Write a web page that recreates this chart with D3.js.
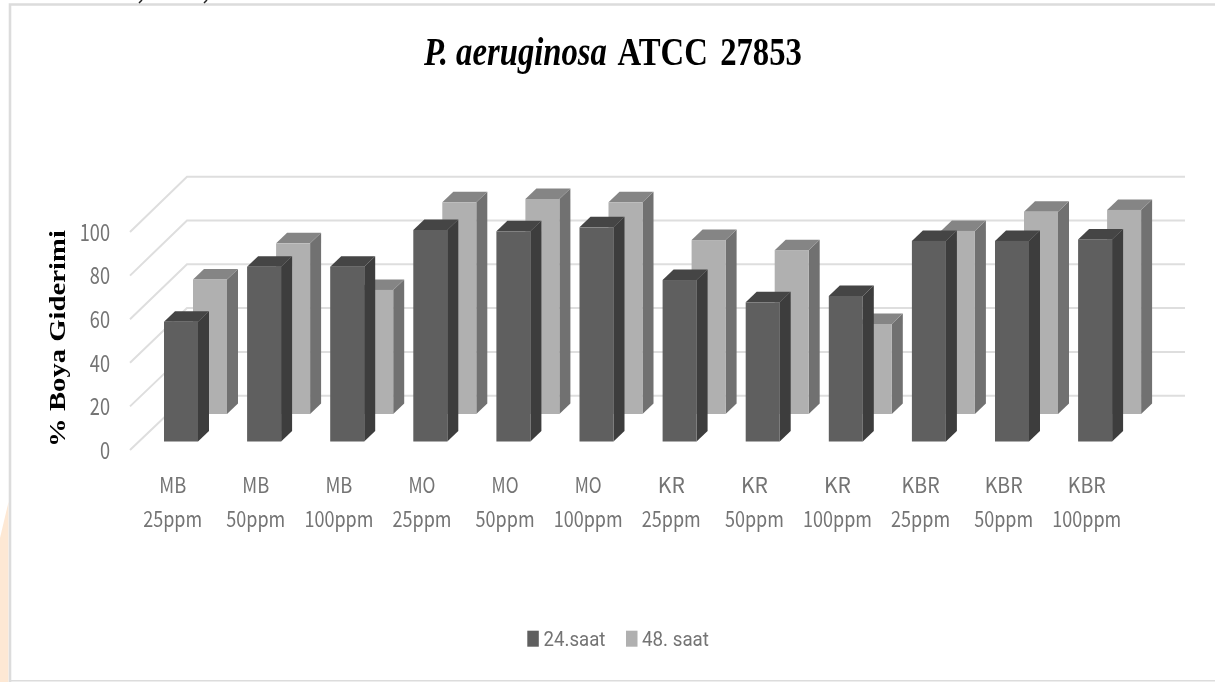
<!DOCTYPE html>
<html><head><meta charset="utf-8">
<script src="https://cdn.jsdelivr.net/npm/d3@7/dist/d3.min.js"></script>
<style>html,body{margin:0;padding:0;background:#fff;overflow:hidden}svg{display:block;filter:blur(0.4px)}</style>
</head><body><svg id="c" width="1215" height="682"></svg>
<script>
const categories = ["MB 25ppm","MB 50ppm","MB 100ppm","MO 25ppm","MO 50ppm","MO 100ppm","KR 25ppm","KR 50ppm","KR 100ppm","KBR 25ppm","KBR 50ppm","KBR 100ppm"];
const saat24 = [54.8,80,80,96.8,96.2,98,73.9,63.7,66.6,91.8,91.8,92.5];
const saat48 = [61.6,78.1,56.8,96.9,98.4,96.9,79.6,75,41.2,83.8,92.6,93.4];
const yTicks = [0,20,40,60,80,100];
const titleItalic = "P. aeruginosa";
const titleRest = " ATCC 27853";
const yTitle = "% Boya Giderimi";
const legendLabels = ["24.saat","48. saat"];

const svg = d3.select("#c");
const labelFont = "'Noto Sans CJK JP','Noto Sans',sans-serif";
const serif = "'Liberation Serif',serif";
const textGrey = "#747474";

// page decoration
svg.append("path").attr("d","M0,538 L8.5,502 L8.5,682 L0,682 Z").attr("fill","#fde8d4");
const frame = svg.append("g").attr("stroke","#dcdcdc").attr("stroke-width",2.6).attr("fill","none");
frame.append("path").attr("d","M10,682 L10,4.5 L1215,4.5");
frame.append("path").attr("d","M10,680.8 L1215,680.8").attr("stroke-width",1.6);
svg.append("path").attr("d","M139,3 L142,0 M204,3 L207,0").attr("stroke","#222").attr("stroke-width",1.5);

// scales: front plane of the axis, back wall and bar lengths
const yFront = d3.scaleLinear().domain([0,100]).range([450,232]);
const yBack = d3.scaleLinear().domain([0,100]).range([395.7,176.7]);
const barLen = d3.scaleLinear().domain([0,100]).range([0,218.5]);
const x = d3.scaleBand().domain(categories).range([164,164+83.1*11+34]).paddingInner(49.1/83.1).paddingOuter(0);
const frontX = 130, backX = 187, wallEnd = 1185;

// grid
const grid = svg.append("g").attr("stroke","#dedede").attr("stroke-width",2).attr("fill","none");
grid.selectAll("path").data(yTicks).join("path")
  .attr("d",t=>`M${frontX},${yFront(t)} L${backX},${yBack(t)} L${wallEnd},${yBack(t)}`);

// bars
const dx = 11, dy = 10.5;
function bars(values, offset, base, c){
  const g = svg.append("g");
  const gs = g.selectAll("g").data(values).join("g");
  const w = x.bandwidth();
  const X = (d,i)=>x(categories[i])+offset;
  const T = d=>base-barLen(d);
  gs.append("path").attr("fill",c.side).attr("d",(d,i)=>{const a=X(d,i)+w;return `M${a},${T(d)} L${a+dx},${T(d)-dy} L${a+dx},${base-dy} L${a},${base} Z`;});
  gs.append("path").attr("fill",c.top).attr("d",(d,i)=>{const a=X(d,i);return `M${a},${T(d)} L${a+dx},${T(d)-dy} L${a+w+dx},${T(d)-dy} L${a+w},${T(d)} Z`;});
  gs.append("rect").attr("fill",c.front).attr("x",X).attr("y",T).attr("width",w).attr("height",d=>barLen(d));
}
const dark = {front:"#5f5f5f",side:"#3d3d3d",top:"#454545"};
const light = {front:"#b0b0b0",side:"#717171",top:"#858585"};
bars(saat48, 29, 414, light);
bars(saat24, 0, 441.5, dark);

// fits a text to a width by horizontal scaling only
function fit(sel, tx, ty, width, anchor){
  sel.attr("text-anchor",anchor||"start").attr("x",0).attr("y",0);
  const len = sel.node().getComputedTextLength();
  sel.attr("transform",`translate(${tx},${ty}) scale(${width/len},1)`);
}

// y axis
const axis = d3.axisLeft(yFront).tickValues(yTicks).tickSize(0).tickPadding(0).tickFormat(d3.format("d"));
const axG = svg.append("g").attr("transform","translate(110,0)").call(axis);
axG.select(".domain").remove();
axG.selectAll("text").each(function(t){
  const s = d3.select(this).attr("font-family",labelFont).attr("font-size",24).attr("font-weight",400).attr("fill",textGrey).attr("dy",null);
  fit(s,0,yFront(t)+8.8,String(t).length*10.1,"end");
});
axG.selectAll(".tick").attr("transform",null);

// category labels
const cat = svg.append("g");
categories.forEach((c,i)=>{
  const [a,b] = c.split(" ");
  const cx = x(c)+8.7;
  const s1 = cat.append("text").text(a).attr("font-family",labelFont).attr("font-size",21.5).attr("font-weight",400).attr("fill",textGrey);
  fit(s1,cx,493,a.length===2?27:38,"middle");
  const s2 = cat.append("text").text(b).attr("font-family",labelFont).attr("font-size",21.5).attr("font-weight",400).attr("fill",textGrey);
  fit(s2,cx,527,b.length===5?59:69,"middle");
});

// title
const title = svg.append("text").attr("font-family",serif).attr("font-size",39).attr("font-weight",700).attr("fill","#000");
title.append("tspan").attr("font-style","italic").text(titleItalic);
title.append("tspan").attr("xml:space","preserve").attr("word-spacing",5).text(titleRest);
fit(title,424,65,378,"start");

// y title
const yt = svg.append("text").text(yTitle).attr("font-family",serif).attr("font-size",24).attr("font-weight",700).attr("fill","#000");
yt.attr("text-anchor","start");
const ytLen = yt.node().getComputedTextLength();
yt.attr("transform",`translate(65,447) rotate(-90) scale(${217/ytLen},1)`);

// legend
const leg = svg.append("g");
[[527.3,dark.front,543.5,62],[626,light.front,642,67]].forEach((l,i)=>{
  leg.append("rect").attr("x",l[0]).attr("y",630.7).attr("width",11.5).attr("height",16).attr("fill",l[1]);
  const s = leg.append("text").text(legendLabels[i]).attr("font-family","Roboto,sans-serif").attr("font-size",20).attr("font-weight",400).attr("fill",textGrey);
  fit(s,l[2],646,l[3],"start");
});
</script></body></html>
